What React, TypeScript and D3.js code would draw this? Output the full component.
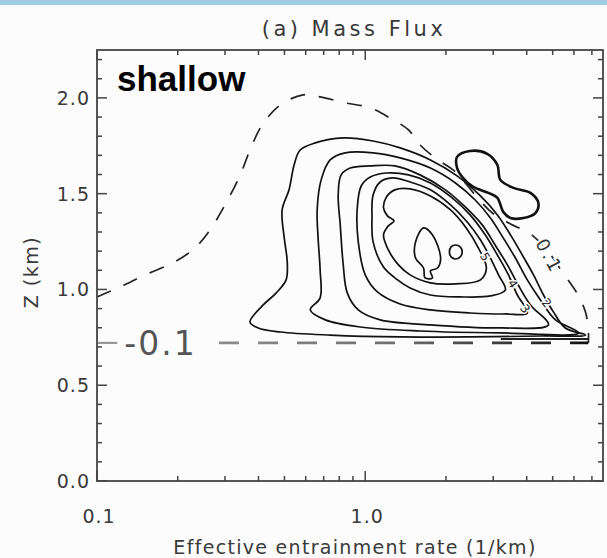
import { scaleLog, scaleLinear, line, curveCatmullRomClosed, curveCatmullRom } from "d3";

type Pt = [number, number]; // [entrainment rate (1/km), z (km)]

const WIDTH = 607;
const HEIGHT = 558;
const FRAME = { left: 97, right: 603, top: 50, bottom: 481 };

const X_DOMAIN: [number, number] = [0.1, 7.7];
const Z_DOMAIN: [number, number] = [0, 2.25];

const X_MAJOR = [0.1, 1.0];
const X_LABELS = ["0.1", "1.0"];
const X_MINOR = [0.2, 0.3, 0.4, 0.5, 0.6, 0.7, 0.8, 0.9, 2, 3, 4, 5, 6, 7];
const Z_MAJOR = [0, 0.5, 1.0, 1.5, 2.0];
const Z_LABELS = ["0.0", "0.5", "1.0", "1.5", "2.0"];
const Z_MINOR = [0.1, 0.2, 0.3, 0.4, 0.6, 0.7, 0.8, 0.9, 1.1, 1.2, 1.3, 1.4, 1.6, 1.7, 1.8, 1.9, 2.1, 2.2];

// solid (positive) mass flux contours, outer -> inner
const C1: Pt[] = [[0.372,0.830],[0.413,0.914],[0.466,0.982],[0.507,1.050],[0.512,1.144],[0.499,1.269],[0.490,1.415],[0.520,1.520],[0.543,1.650],[0.572,1.728],[0.651,1.765],[0.828,1.791],[1.07,1.775],[1.35,1.739],[1.75,1.676],[2.20,1.593],[2.69,1.488],[3.11,1.389],[3.48,1.285],[3.85,1.180],[4.24,1.076],[4.62,0.971],[5.03,0.883],[5.57,0.799],[6.62,0.762],[4.50,0.757],[2.46,0.752],[1.35,0.752],[0.740,0.762],[0.482,0.778],[0.399,0.799]];
const C2: Pt[] = [[0.624,0.893],[0.679,0.956],[0.679,1.102],[0.668,1.258],[0.662,1.415],[0.685,1.572],[0.740,1.676],[0.842,1.713],[1.07,1.713],[1.35,1.687],[1.75,1.634],[2.17,1.556],[2.57,1.467],[2.93,1.373],[3.27,1.269],[3.63,1.164],[4.02,1.050],[4.50,0.945],[5.12,0.841],[6.24,0.773],[3.19,0.773],[1.60,0.783],[0.958,0.804],[0.710,0.841]];
const C3: Pt[] = [[0.857,0.982],[0.828,1.128],[0.807,1.337],[0.793,1.493],[0.813,1.598],[0.879,1.634],[1.044,1.645],[1.29,1.645],[1.60,1.598],[1.99,1.520],[2.36,1.431],[2.73,1.337],[3.05,1.232],[3.39,1.128],[3.72,1.023],[4.13,0.919],[4.82,0.815],[3.19,0.799],[1.75,0.815],[1.137,0.841],[0.942,0.893]];
const C4: Pt[] = [[1.11,0.987],[1.00,1.076],[0.942,1.248],[0.933,1.415],[0.966,1.540],[1.044,1.587],[1.20,1.608],[1.45,1.598],[1.75,1.556],[2.11,1.478],[2.46,1.389],[2.80,1.285],[3.11,1.180],[3.42,1.076],[3.69,0.971],[4.02,0.877],[3.33,0.872],[2.46,0.877],[1.75,0.893],[1.35,0.924]];
const C5: Pt[] = [[1.32,1.050],[1.17,1.117],[1.07,1.248],[1.06,1.373],[1.07,1.493],[1.137,1.561],[1.26,1.582],[1.47,1.561],[1.75,1.520],[2.08,1.441],[2.40,1.352],[2.69,1.258],[2.93,1.164],[3.14,1.076],[3.33,0.997],[2.93,0.966],[2.26,0.961],[1.75,0.971],[1.47,1.008]];
const C6: Pt[] = [[1.47,1.076],[1.33,1.128],[1.22,1.206],[1.17,1.285],[1.22,1.332],[1.28,1.358],[1.21,1.384],[1.17,1.426],[1.20,1.483],[1.29,1.520],[1.47,1.525],[1.75,1.488],[2.08,1.415],[2.38,1.321],[2.64,1.217],[2.83,1.112],[2.69,1.050],[2.17,1.029],[1.75,1.034]];
const C7: Pt[] = [[1.65,1.321],[1.78,1.285],[1.91,1.164],[1.86,1.112],[1.75,1.097],[1.78,1.060],[1.67,1.060],[1.65,1.112],[1.54,1.164],[1.54,1.248]];
const C_SMALL: Pt[] = [[2.06,1.196],[2.09,1.222],[2.17,1.232],[2.26,1.222],[2.30,1.196],[2.26,1.170],[2.17,1.159],[2.09,1.170]];
const SOLID = [C1, C2, C3, C4, C5, C6, C7, C_SMALL];

// isolated closed contour up-right of the core (heavier line)
const HOURGLASS: Pt[] = [[2.20,1.692],[2.46,1.723],[2.85,1.708],[3.11,1.650],[3.19,1.572],[3.57,1.530],[4.13,1.504],[4.42,1.452],[4.31,1.399],[3.89,1.373],[3.48,1.373],[3.27,1.405],[3.11,1.478],[2.88,1.504],[2.53,1.535],[2.30,1.587],[2.20,1.634]];

// dashed 0.1 contour enclosing the core
const DASHED_UPPER: Pt[] = [[0.1,0.961],[0.122,1.013],[0.151,1.076],[0.195,1.144],[0.232,1.217],[0.264,1.311],[0.300,1.441],[0.342,1.598],[0.372,1.728],[0.413,1.859],[0.482,1.963],[0.587,2.016],[0.679,2.005],[0.842,1.974],[1.044,1.948],[1.27,1.885],[1.45,1.833],[1.60,1.755],[1.82,1.687],[2.17,1.614],[2.57,1.493],[2.98,1.399],[3.48,1.342],[4.13,1.290],[4.82,1.196],[5.43,1.091],[6.12,0.987],[6.62,0.883],[6.79,0.789],[6.79,0.721]];

// dashed -0.1 contour: flat at cloud base
const BASE_Z = 0.721;
const BASE_X: [number, number] = [0.1, 6.79];
const BASE_LABEL_GAP: [number, number] = [0.119, 0.285];

// contour labels [text, x, z, rotation]
const LABELS: [string, number, number, number][] = [
  ["5", 2.80, 1.17, 58],
  ["4", 3.55, 1.03, 58],
  ["3", 3.95, 0.90, 55],
  ["2", 4.75, 0.93, 50],
];
const UPPER_LABEL: [string, number, number, number] = ["0.1", 4.85, 1.175, 62];

const x = scaleLog().domain(X_DOMAIN).range([FRAME.left, FRAME.right]);
const y = scaleLinear().domain(Z_DOMAIN).range([FRAME.bottom, FRAME.top]);

const closedPath = line<Pt>()
  .x((d) => x(d[0]))
  .y((d) => y(d[1]))
  .curve(curveCatmullRomClosed.alpha(0.5));
const openPath = line<Pt>()
  .x((d) => x(d[0]))
  .y((d) => y(d[1]))
  .curve(curveCatmullRom.alpha(0.5));

const FONT = "'DejaVu Sans', sans-serif";
const INK = "#3a3a3a";

export default function App() {
  const gy = y(BASE_Z);
  return (
    <svg width={WIDTH} height={HEIGHT} style={{ display: "block", position: "absolute", left: 0, top: 0 }}>
      <defs>
        <linearGradient id="baseGrad" gradientUnits="userSpaceOnUse" x1={x(0.1)} x2={x(6.8)} y1={0} y2={0}>
          <stop offset="0" stopColor="#a0a0a0" />
          <stop offset="0.6" stopColor="#707070" />
          <stop offset="1" stopColor="#111" />
        </linearGradient>
      </defs>
      <rect width={WIDTH} height={HEIGHT} fill="#fcfcfc" />
      <rect width={WIDTH} height={5} fill="#9fcbe3" />

      {/* title */}
      <text x={354} y={36} textAnchor="middle" fontFamily={FONT} fontSize={21} letterSpacing={3.5} fill={INK}>
        (a) Mass Flux
      </text>

      {/* contours */}
      {SOLID.map((c, i) => (
        <path key={i} d={closedPath(c) ?? ""} fill="none" stroke="#111" strokeWidth={1.7} strokeLinejoin="round" />
      ))}
      <path d={closedPath(HOURGLASS) ?? ""} fill="none" stroke="#111" strokeWidth={2.6} />
      <path d={openPath(DASHED_UPPER) ?? ""} fill="none" stroke="#222" strokeWidth={1.7} strokeDasharray="15 14" />

      {/* flat -0.1 contour */}
      <line x1={x(BASE_X[0])} x2={x(BASE_LABEL_GAP[0])} y1={gy} y2={gy} stroke="#999" strokeWidth={2.2} />
      <line
        x1={x(BASE_LABEL_GAP[1])}
        x2={x(BASE_X[1])}
        y1={gy}
        y2={gy}
        stroke="url(#baseGrad)"
        strokeWidth={2.8}
        strokeDasharray="20 19"
      />
      <line x1={x(3.2)} x2={x(BASE_X[1])} y1={gy - 4} y2={gy - 4} stroke="#222" strokeWidth={2} />
      <text x={x(BASE_LABEL_GAP[0]) + 7} y={gy + 12} fontFamily={FONT} fontSize={33} letterSpacing={2} fill="#555">
        -0.1
      </text>

      {LABELS.map(([t, lx, lz, r]) => (
        <text
          key={t}
          transform={`translate(${x(lx)},${y(lz)}) rotate(${r})`}
          textAnchor="middle"
          dy="0.35em"
          fontFamily={FONT}
          fontSize={12}
          fill="#222"
          stroke="#fcfcfc"
          strokeWidth={3}
          paintOrder="stroke"
        >
          {t}
        </text>
      ))}
      <text
        transform={`translate(${x(UPPER_LABEL[1])},${y(UPPER_LABEL[2])}) rotate(${UPPER_LABEL[3]})`}
        textAnchor="middle"
        dy="0.35em"
        fontFamily={FONT}
        fontSize={18}
        letterSpacing={2.5}
        fill="#333"
        stroke="#fcfcfc"
        strokeWidth={4}
        paintOrder="stroke"
      >
        {UPPER_LABEL[0]}
      </text>

      {/* frame + ticks */}
      <rect
        x={FRAME.left}
        y={FRAME.top}
        width={FRAME.right - FRAME.left}
        height={FRAME.bottom - FRAME.top}
        fill="none"
        stroke="#444"
        strokeWidth={1.8}
      />
      {X_MAJOR.map((v) => (
        <g key={`xM${v}`}>
          <line x1={x(v)} x2={x(v)} y1={FRAME.bottom} y2={FRAME.bottom - 10} stroke="#444" strokeWidth={1.5} />
          <line x1={x(v)} x2={x(v)} y1={FRAME.top} y2={FRAME.top + 10} stroke="#444" strokeWidth={1.5} />
        </g>
      ))}
      {X_MINOR.map((v) => (
        <g key={`xm${v}`}>
          <line x1={x(v)} x2={x(v)} y1={FRAME.bottom} y2={FRAME.bottom - 5} stroke="#444" strokeWidth={1.5} />
          <line x1={x(v)} x2={x(v)} y1={FRAME.top} y2={FRAME.top + 5} stroke="#444" strokeWidth={1.5} />
        </g>
      ))}
      {Z_MAJOR.map((v) => (
        <g key={`zM${v}`}>
          <line x1={FRAME.left} x2={FRAME.left + 10} y1={y(v)} y2={y(v)} stroke="#444" strokeWidth={1.5} />
          <line x1={FRAME.right} x2={FRAME.right - 10} y1={y(v)} y2={y(v)} stroke="#444" strokeWidth={1.5} />
        </g>
      ))}
      {Z_MINOR.map((v) => (
        <g key={`zm${v}`}>
          <line x1={FRAME.left} x2={FRAME.left + 5} y1={y(v)} y2={y(v)} stroke="#444" strokeWidth={1.5} />
          <line x1={FRAME.right} x2={FRAME.right - 5} y1={y(v)} y2={y(v)} stroke="#444" strokeWidth={1.5} />
        </g>
      ))}

      {/* tick labels */}
      {X_MAJOR.map((v, i) => (
        <text key={`xl${v}`} x={x(v) + 2} y={523} textAnchor="middle" fontFamily={FONT} fontSize={19} letterSpacing={1} fill={INK}>
          {X_LABELS[i]}
        </text>
      ))}
      {Z_MAJOR.map((v, i) => (
        <text key={`zl${v}`} x={90} y={y(v)} dy="0.36em" textAnchor="end" fontFamily={FONT} fontSize={19} letterSpacing={1} fill={INK}>
          {Z_LABELS[i]}
        </text>
      ))}

      {/* axis titles */}
      <text x={355} y={554} textAnchor="middle" fontFamily={FONT} fontSize={19} letterSpacing={1.3} fill={INK}>
        Effective entrainment rate (1/km)
      </text>
      <text
        transform="translate(38,272) rotate(-90)"
        textAnchor="middle"
        fontFamily={FONT}
        fontSize={19}
        letterSpacing={1.5}
        fill={INK}
      >
        Z (km)
      </text>

      <text x={117} y={91} fontFamily="'Liberation Sans', Arial, sans-serif" fontWeight="bold" fontSize={35} fill="#000">
        shallow
      </text>
    </svg>
  );
}
